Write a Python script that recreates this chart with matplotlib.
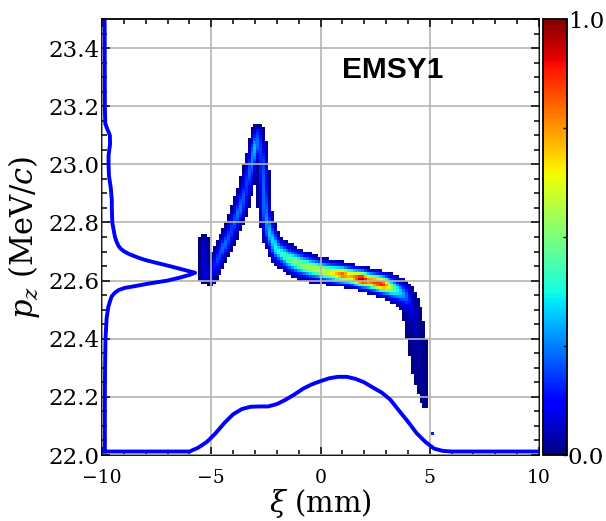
import numpy as np
import matplotlib
matplotlib.use("Agg")
import matplotlib.pyplot as plt
from matplotlib.ticker import MultipleLocator

plt.rcParams["font.family"] = ["DejaVu Serif"]
plt.rcParams["mathtext.fontset"] = "dejavuserif"

# ---- longitudinal phase space: ridge control points (xi [mm], pz [MeV/c]) ----
# rising arm leading to the spike
rise_xi = [-5.05, -4.75, -4.40, -4.05, -3.70, -3.42, -3.18, -2.98, -2.84]
rise_pz = [22.615, 22.665, 22.720, 22.775, 22.845, 22.920, 22.990, 23.060, 23.110]
rise_lev = [0.08, 0.18, 0.24, 0.18, 0.25, 0.17, 0.24, 0.32, 0.15]
rise_wxi = [0.40, 0.40, 0.40, 0.40, 0.39, 0.37, 0.36, 0.36, 0.34]
rise_wpz = [0.031] * 9

# falling arm, flat core and high-momentum-deficit tail
core_xi = [-2.84, -2.66, -2.60, -2.52, -2.32, -2.00, -1.50, -1.00, -0.50, 0.00,
           0.50, 1.00, 1.30, 1.60, 1.90, 2.20, 2.50, 2.80, 3.10, 3.50,
           3.85, 4.10, 4.30, 4.45, 4.55, 4.68, 4.80]
core_pz = [23.110, 23.020, 22.920, 22.830, 22.760, 22.705, 22.677, 22.658, 22.645, 22.635,
           22.627, 22.621, 22.616, 22.611, 22.606, 22.600, 22.594, 22.588, 22.580, 22.566,
           22.548, 22.515, 22.450, 22.380, 22.300, 22.230, 22.180]
core_lev = [0.15, 0.20, 0.22, 0.25, 0.32, 0.38, 0.45, 0.50, 0.55, 0.58,
            0.62, 0.82, 0.70, 0.80, 1.00, 0.78, 0.85, 0.90, 0.65, 0.40,
            0.25, 0.10, 0.05, 0.04, 0.03, 0.02, 0.02]
core_wxi = [0.30, 0.30, 0.31, 0.33, 0.36, 0.38, 0.38, 0.38, 0.38, 0.38,
            0.38, 0.38, 0.38, 0.38, 0.38, 0.38, 0.38, 0.38, 0.38, 0.38,
            0.40, 0.44, 0.46, 0.46, 0.40, 0.30, 0.18]
core_wpz = [0.031, 0.031, 0.031, 0.036, 0.044, 0.052, 0.056, 0.054, 0.050, 0.047,
            0.045, 0.044, 0.044, 0.044, 0.044, 0.045, 0.046, 0.047, 0.049, 0.051,
            0.052, 0.050, 0.044, 0.038, 0.035, 0.030, 0.024]

# short stub at the head of the bunch
stub_xi = [-5.33, -5.33]
stub_pz = [22.738, 22.610]
stub_lev = [0.06, 0.10]
stub_wxi = [0.25, 0.25]
stub_wpz = [0.018, 0.018]

# isolated macro-particle
dot_xi = [5.133]
dot_pz = [22.075]
dot_lev = [0.15]
dot_wxi = [0.06]
dot_wpz = [0.006]

# ---- projections ----
# current profile along xi (plotted in pz units at the bottom of the frame)
prof_xi = [-10.0, -6.0, -5.6, -5.2, -4.8, -4.4, -4.0, -3.6, -3.2, -2.8, -2.4, -2.0,
           -1.6, -1.2, -0.8, -0.4, 0.0, 0.4, 0.8, 1.2, 1.6, 2.0, 2.4, 2.8, 3.2,
           3.6, 4.0, 4.4, 4.8, 5.2, 5.6, 6.0, 10.0]
prof_pz = [22.012, 22.012, 22.025, 22.045, 22.075, 22.110, 22.140, 22.158, 22.166,
           22.167, 22.167, 22.175, 22.190, 22.208, 22.228, 22.243, 22.254, 22.264,
           22.269, 22.269, 22.262, 22.250, 22.232, 22.215, 22.190, 22.152, 22.115,
           22.075, 22.045, 22.022, 22.014, 22.012, 22.012]

# momentum spectrum (plotted in xi units along the left edge)
spec_pz = [22.012, 22.10, 22.20, 22.30, 22.40, 22.47, 22.51, 22.53, 22.545, 22.555,
           22.562, 22.568, 22.575, 22.581, 22.59, 22.60, 22.61, 22.62, 22.627, 22.635,
           22.648, 22.66, 22.671, 22.68, 22.69, 22.70, 22.71, 22.72, 22.735, 22.751,
           22.80, 22.85, 22.877, 22.92, 22.96, 23.00, 23.03, 23.07, 23.10, 23.12,
           23.14, 23.20, 23.50]
spec_xi = [-9.87, -9.87, -9.87, -9.86, -9.84, -9.79, -9.71, -9.63, -9.56, -9.45,
           -9.35, -9.22, -8.95, -8.49, -7.85, -7.00, -6.45, -5.98, -5.74, -6.15,
           -6.81, -7.45, -8.03, -8.38, -8.72, -8.98, -9.15, -9.25, -9.34, -9.41,
           -9.53, -9.55, -9.55, -9.60, -9.68, -9.70, -9.70, -9.63, -9.64, -9.75,
           -9.85, -9.87, -9.88]

# ---- histogram grid ----
xi_edges = np.linspace(-10.0, 10.0, 151)
pz_edges = np.linspace(22.0, 23.5, 151)
XC, YC = np.meshgrid(0.5 * (xi_edges[1:] + xi_edges[:-1]),
                     0.5 * (pz_edges[1:] + pz_edges[:-1]))


def deposit(val, xs, ys, levs, wxs, wys, steps=40):
    """Sweep elliptical kernels along a polyline and keep the running maximum."""
    xs, ys, levs, wxs, wys = map(np.asarray, (xs, ys, levs, wxs, wys))
    if len(xs) == 1:
        params = [(xs[0], ys[0], levs[0], wxs[0], wys[0])]
    else:
        params = []
        for i in range(len(xs) - 1):
            ts = np.linspace(0, 1, steps, endpoint=(i == len(xs) - 2))
            for t in ts:
                params.append(tuple((1 - t) * a[i] + t * a[i + 1]
                                    for a in (xs, ys, levs, wxs, wys)))
    for x0, y0, lv, wx, wy in params:
        r2 = ((XC - x0) / wx) ** 2 + ((YC - y0) / wy) ** 2
        v = np.where(r2 < 1.0, lv * np.exp(-3.2 * r2) + 1e-6, 0.0)
        np.maximum(val, v, out=val)
    return val


dens = np.zeros_like(XC)
deposit(dens, rise_xi, rise_pz, rise_lev, rise_wxi, rise_wpz)
deposit(dens, core_xi, core_pz, core_lev, core_wxi, core_wpz)
deposit(dens, stub_xi, stub_pz, stub_lev, stub_wxi, stub_wpz)
deposit(dens, dot_xi, dot_pz, dot_lev, dot_wxi, dot_wpz)
dens = np.ma.masked_where(dens <= 0, dens)

# ---- figure ----
W, H = 606, 521
fig = plt.figure(figsize=(W / 100, H / 100), dpi=100)
ax = fig.add_axes([102 / W, 1 - 455 / H, 437 / W, 436 / H])
cax = fig.add_axes([543 / W, 1 - 455 / H, 24 / W, 436 / H])

mesh = ax.pcolormesh(xi_edges, pz_edges, dens, cmap="jet", vmin=0, vmax=1,
                     shading="flat", zorder=1)
ax.plot(prof_xi, prof_pz, color="#0000ff", lw=2.8, zorder=3)
ax.plot(spec_xi, spec_pz, color="#0000ff", lw=2.8, zorder=3)

ax.set_xlim(-10, 10)
ax.set_ylim(22.0, 23.5)
ax.xaxis.set_major_locator(MultipleLocator(5))
ax.xaxis.set_minor_locator(MultipleLocator(1))
ax.yaxis.set_major_locator(MultipleLocator(0.2))
ax.yaxis.set_minor_locator(MultipleLocator(0.05))
ax.grid(True, which="major", color="#b4b4b4", lw=1.2, zorder=2)
ax.set_axisbelow(False)
ax.tick_params(which="both", direction="in", top=True, right=True, width=1.1,
               color="black")
ax.tick_params(which="major", length=6)
ax.tick_params(which="minor", length=3.5)
ax.tick_params(axis="x", labelsize=13.5, pad=10)
ax.tick_params(axis="y", labelsize=16.5, pad=1.5)
for sp in ax.spines.values():
    sp.set_linewidth(1.3)

ax.set_xlabel(r"$\xi$ (mm)", fontsize=21)
ax.set_ylabel(r"$p_z$ (MeV/$c$)", fontsize=22)
ax.xaxis.set_label_coords(0.5, -0.074)
ax.yaxis.set_label_coords(-0.137, 0.5)

ax.text(0.549, 0.883, "EMSY1", transform=ax.transAxes, ha="left", va="center",
        fontsize=21.5, fontweight="bold", family=["Liberation Sans"], zorder=4)

cb = fig.colorbar(mesh, cax=cax)
cb.set_ticks([0.0, 0.25, 0.5, 0.75, 1.0])
cb.set_ticklabels(["0.0", "", "", "", "1.0"])
cb.ax.tick_params(direction="in", length=3, width=1.0, labelsize=16.5, pad=0.5)
cb.outline.set_linewidth(1.3)

fig.savefig("out.png", dpi=100)
